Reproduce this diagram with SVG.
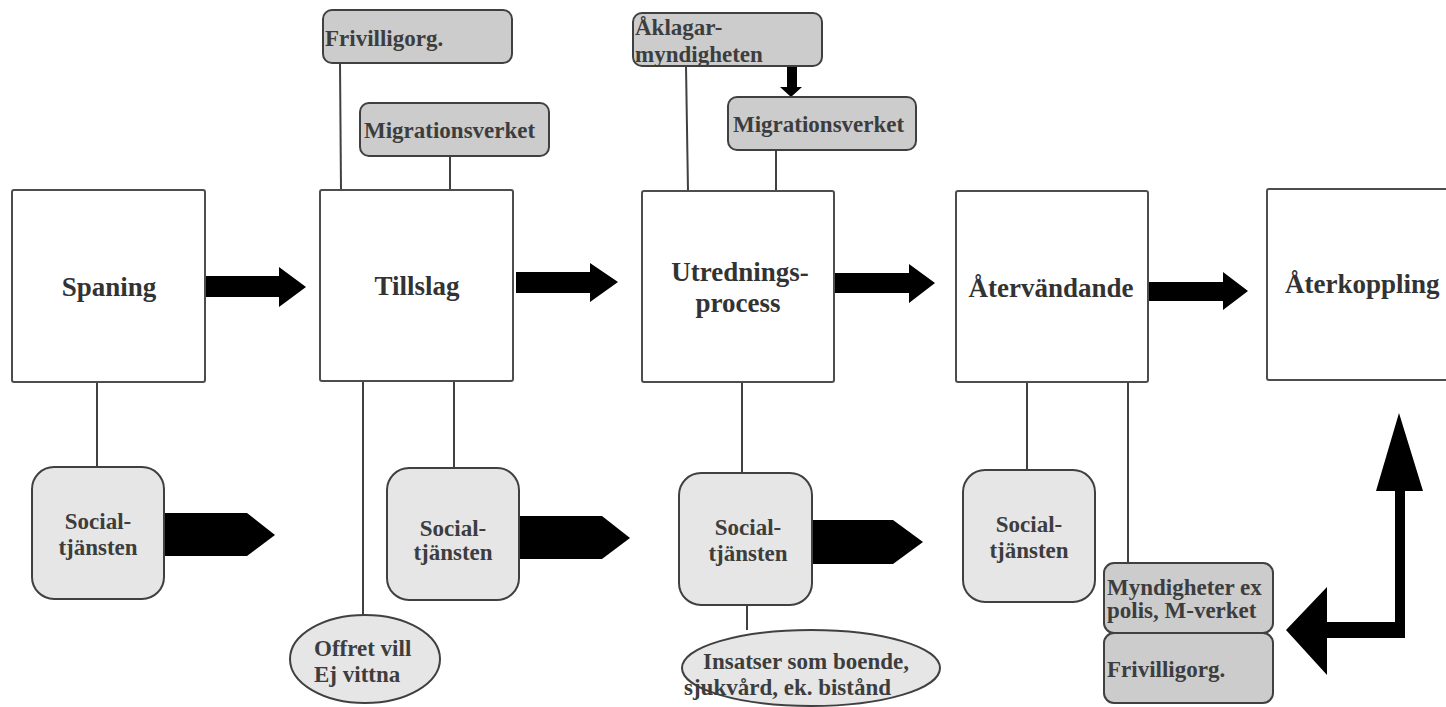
<svg xmlns="http://www.w3.org/2000/svg" width="1446" height="707" viewBox="0 0 1446 707">
<style>
.main{fill:#fff;stroke:#4d4d4d;stroke-width:2}
.gray{fill:#cccccc;stroke:#404040;stroke-width:2}
.light{fill:#e6e6e6;stroke:#404040;stroke-width:2}
.ln{stroke:#404040;stroke-width:2;fill:none}
.blk{fill:#000}
.t1{font-family:'Liberation Serif',serif;font-weight:700;font-size:27px;fill:#333}
.t2{font-family:'Liberation Serif',serif;font-weight:700;font-size:23px;fill:#3d3d3d}
.c{text-anchor:middle}
</style>
<rect width="1446" height="707" fill="#fff"/>
<g id="connectors">
<line class="ln" x1="340" y1="63" x2="341" y2="190"/>
<line class="ln" x1="450" y1="156" x2="450" y2="190"/>
<line class="ln" x1="686" y1="66" x2="688" y2="191"/>
<line class="ln" x1="776" y1="150" x2="776" y2="191"/>
<line class="ln" x1="97" y1="382" x2="97" y2="467"/>
<line class="ln" x1="363" y1="381" x2="363" y2="615"/>
<line class="ln" x1="454" y1="381" x2="454" y2="468"/>
<line class="ln" x1="742" y1="382" x2="742" y2="473"/>
<line class="ln" x1="747" y1="605" x2="747" y2="630"/>
<line class="ln" x1="1027" y1="382" x2="1027" y2="470"/>
<line class="ln" x1="1128" y1="382" x2="1128" y2="563"/>
<polygon class="blk" points="205,276 279,276 279,267 306,287 279,307 279,297 205,297"/>
<polygon class="blk" points="516,272 590,272 590,263 618,282 590,302 590,293 516,293"/>
<polygon class="blk" points="834,273 909,273 909,264 935,283 909,303 909,293 834,293"/>
<polygon class="blk" points="1148,282 1223,282 1223,272 1248,291 1223,310 1223,301 1148,301"/>
<polygon class="blk" points="164,513 247,513 275,535 247,556 164,556"/>
<polygon class="blk" points="519,516 602,516 630,538 602,559 519,559"/>
<polygon class="blk" points="812,520 893,520 923,542 893,564 812,564"/>
<polygon class="blk" points="787,66 797,66 797,87 802,87 791,97 780,87 787,87"/>
<polygon class="blk" points="1399,413 1423,491 1405,491 1405,638 1327,638 1327,675 1286,630 1327,587 1327,622 1395,622 1395,491 1376,491"/>
</g>
<g id="spaning"><rect class="main" x="12" y="190" width="193" height="192" rx="2"/><text class="t1 c" x="109" y="296">Spaning</text></g>
<g id="tillslag"><rect class="main" x="320" y="190" width="193" height="191" rx="2"/><text class="t1 c" x="417" y="295">Tillslag</text></g>
<g id="utredning"><rect class="main" x="642" y="191" width="192" height="191" rx="2"/><text class="t1 c" x="740" y="281">Utrednings-</text><text class="t1 c" x="738" y="312">process</text></g>
<g id="atervandande"><rect class="main" x="956" y="191" width="192" height="191" rx="2"/><text class="t1 c" x="1051" y="297">Återvändande</text></g>
<g id="aterkoppling"><rect class="main" x="1267" y="189" width="190" height="191" rx="2"/><text class="t1" x="1285" y="293">Återkoppling</text></g>
<g id="frivillig-top"><rect class="gray" x="323" y="10" width="189" height="53" rx="9"/><text class="t2" x="325" y="46">Frivilligorg.</text></g>
<g id="migration1"><rect class="gray" x="360" y="103" width="189" height="53" rx="9"/><text class="t2" x="364" y="138">Migrationsverket</text></g>
<g id="aklagar"><rect class="gray" x="633" y="13" width="189" height="53" rx="9"/><text class="t2" x="635" y="35">Åklagar-</text><text class="t2" x="635" y="62">myndigheten</text></g>
<g id="migration2"><rect class="gray" x="728" y="97" width="188" height="53" rx="9"/><text class="t2" x="733" y="132">Migrationsverket</text></g>
<g id="social1"><rect class="light" x="32" y="467" width="132" height="132" rx="22"/><text class="t2 c" x="98" y="529">Social-</text><text class="t2 c" x="98" y="555">tjänsten</text></g>
<g id="social2"><rect class="light" x="387" y="468" width="132" height="132" rx="22"/><text class="t2 c" x="453" y="536">Social-</text><text class="t2 c" x="453" y="560">tjänsten</text></g>
<g id="social3"><rect class="light" x="679" y="473" width="133" height="132" rx="22"/><text class="t2 c" x="748" y="535">Social-</text><text class="t2 c" x="748" y="561">tjänsten</text></g>
<g id="social4"><rect class="light" x="963" y="470" width="132" height="132" rx="22"/><text class="t2 c" x="1029" y="532">Social-</text><text class="t2 c" x="1029" y="558">tjänsten</text></g>
<g id="offret"><ellipse class="light" cx="365" cy="659" rx="75" ry="44"/><text class="t2" x="314" y="656">Offret vill</text><text class="t2" x="314" y="682">Ej vittna</text></g>
<g id="insatser"><ellipse class="light" cx="811" cy="668" rx="129" ry="38"/><text class="t2" x="703" y="669">Insatser som boende,</text><text class="t2" x="684" y="695">sjukvård, ek. bistånd</text></g>
<g id="myndigheter"><rect class="gray" x="1104" y="563" width="169" height="70" rx="10"/><text class="t2" x="1107" y="595">Myndigheter ex</text><text class="t2" x="1107" y="618">polis, M-verket</text></g>
<g id="frivillig-bottom"><rect class="gray" x="1104" y="633" width="169" height="70" rx="10"/><text class="t2" x="1107" y="677">Frivilligorg.</text></g>
</svg>
